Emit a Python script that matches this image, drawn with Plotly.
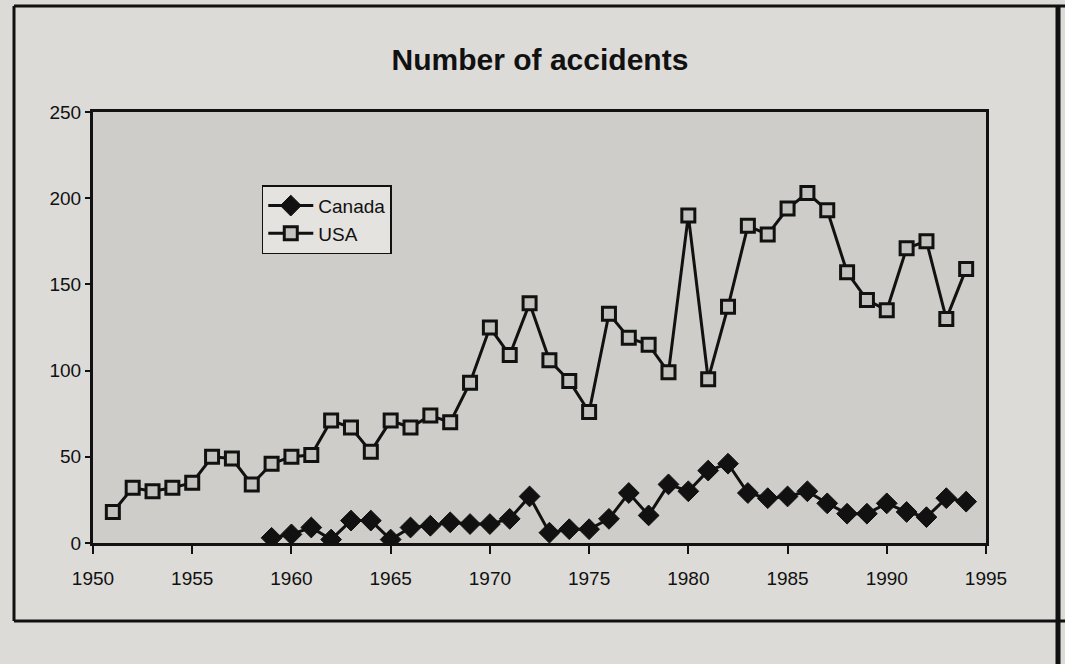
import plotly.graph_objects as go

# Annual accident counts
usa_years = list(range(1951, 1995))
usa_counts = [18, 32, 30, 32, 35, 50, 49, 34, 46, 50, 51, 71, 67, 53, 71, 67,
              74, 70, 93, 125, 109, 139, 106, 94, 76, 133, 119, 115, 99, 190,
              95, 137, 184, 179, 194, 203, 193, 157, 141, 135, 171, 175, 130, 159]

canada_years = list(range(1959, 1995))
canada_counts = [3, 5, 9, 2, 13, 13, 2, 9, 10, 12, 11, 11, 14, 27, 6, 8, 8, 14,
                 29, 16, 34, 30, 42, 46, 29, 26, 27, 30, 23, 17, 17, 23, 18, 15,
                 26, 24]

x_ticks = [1950, 1955, 1960, 1965, 1970, 1975, 1980, 1985, 1990, 1995]
y_ticks = [0, 50, 100, 150, 200, 250]

FONT = "Liberation Sans, Arial, sans-serif"

fig = go.Figure()

fig.add_trace(go.Scatter(
    x=canada_years, y=canada_counts, name="Canada", mode="lines+markers",
    line=dict(color="#111111", width=3),
    marker=dict(symbol="diamond", size=16, color="#111111",
                line=dict(color="#111111", width=1)),
))

fig.add_trace(go.Scatter(
    x=usa_years, y=usa_counts, name="USA", mode="lines+markers",
    line=dict(color="#111111", width=3),
    marker=dict(symbol="square", size=13, color="#c2c2be",
                line=dict(color="#111111", width=3)),
))

# Outer frame of the chart page
frame = dict(type="line", xref="paper", yref="paper",
             line=dict(color="#111111", width=3))
x0, x1 = (14 - 93) / 893, (1058 - 93) / 893
y_top, y_bot = (543 - 6) / 431, (543 - 621) / 431
shapes = [
    dict(frame, x0=x0, x1=1.2, y0=y_top, y1=y_top),
    dict(frame, x0=x0, x1=1.2, y0=y_bot, y1=y_bot),
    dict(frame, x0=x0, x1=x0, y0=y_bot, y1=y_top),
    dict(frame, x0=x1, x1=x1, y0=-0.4, y1=y_top, line=dict(color="#111111", width=5)),
]

fig.update_layout(
    width=1065, height=664,
    margin=dict(l=93, r=79, t=112, b=121),
    paper_bgcolor="#dcdbd7",
    plot_bgcolor="#cecdc9",
    font=dict(family=FONT, color="#111111", size=19),
    title=dict(text="<b>Number of accidents</b>", x=0.507, xanchor="center",
               y=0.91, yanchor="middle",
               font=dict(family=FONT, size=30, color="#111111")),
    showlegend=True,
    legend=dict(x=0.189, y=0.83, xanchor="left", yanchor="top",
                bgcolor="#e4e3df", bordercolor="#111111", borderwidth=1.5,
                font=dict(family=FONT, size=19, color="#111111"),
                itemwidth=45, tracegroupgap=2),
    xaxis=dict(range=[1950, 1995], tickvals=x_ticks, showgrid=False,
               zeroline=False, showline=True, linecolor="#111111", linewidth=3,
               mirror=True, ticks="outside", ticklen=8, tickwidth=1.5,
               tickcolor="#111111", tickfont=dict(size=19),
               ticklabelstandoff=8),
    yaxis=dict(range=[0, 250], tickvals=y_ticks, showgrid=False,
               zeroline=False, showline=True, linecolor="#111111", linewidth=3,
               mirror=True, ticks="outside", ticklen=5, tickwidth=1.5,
               tickcolor="#111111", tickfont=dict(size=19)),
    shapes=shapes,
)

fig.write_html("out.html")
